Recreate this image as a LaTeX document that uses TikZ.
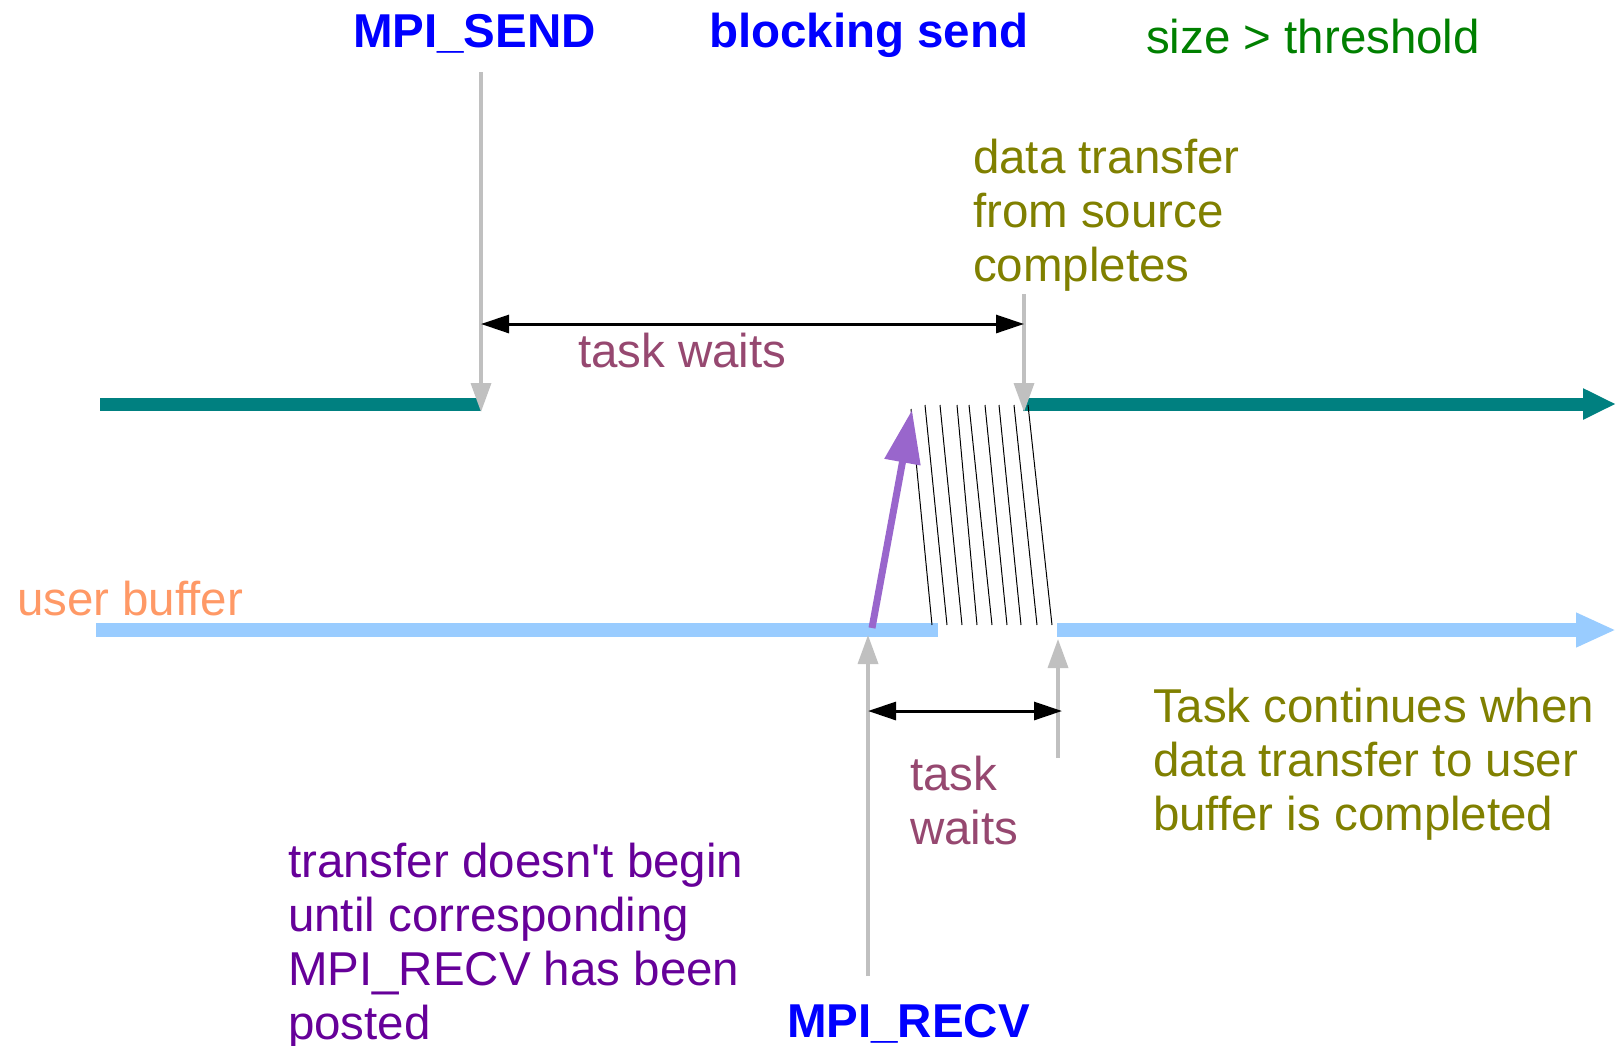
\documentclass[tikz,border=0pt]{standalone}
\usepackage{fontspec}
\setmainfont{Liberation Sans}[Ligatures=TeXOff]
\usetikzlibrary{arrows.meta}

\definecolor{cblue}{HTML}{0000FF}
\definecolor{cgreen}{HTML}{008000}
\definecolor{colive}{HTML}{808000}
\definecolor{cwait}{RGB}{150,72,112}
\definecolor{corange}{HTML}{FF9966}
\definecolor{cpurple}{HTML}{660099}
\definecolor{cteal}{HTML}{008080}
\definecolor{clight}{HTML}{99CCFF}
\definecolor{cgrey}{HTML}{C0C0C0}
\definecolor{carrow}{HTML}{9966CC}

\newcommand{\stack}[1]{\vtop{\baselineskip=54pt\lineskiplimit=-100pt #1}}

\begin{document}
\begin{tikzpicture}[x=1pt,y=-1pt,
  txt/.style={inner sep=0pt, outer sep=0pt, anchor=base west,
              font=\fontsize{47.5}{54}\selectfont},
  bold/.style={txt, font=\fontsize{47.5}{54}\selectfont\bfseries},
  sendline/.style={draw=cteal, line width=13pt},
  recvline/.style={draw=clight, line width=14pt},
  marker/.style={draw=cgrey, line width=3.5pt, -{Triangle[length=29pt,width=20pt]}},
  span/.style={draw=black, line width=3pt,
               {Triangle[length=28pt,width=18pt]}-{Triangle[length=28pt,width=18pt]}},
  hatch/.style={draw=black, line width=1pt},
  start/.style={draw=carrow, line width=7pt, -{Triangle[length=53pt,width=35pt]}}
]
\useasboundingbox (0,0) rectangle (1616,1045);

% headings
\node[bold, text=cblue] (send) at (353,47) {MPI\_SEND};
\node[bold, text=cblue] (title) at (709,47) {blocking send};
\node[txt, text=cgreen] (cond) at (1146,53) {size > threshold};

% sender time line
\coordinate (s0) at (100,404);
\coordinate (s1) at (481,404);
\coordinate (s2) at (1023,404);
\coordinate (s3) at (1616,404);
\draw[sendline] (s0) -- (s1);
\draw[sendline, -{Triangle[length=33pt,width=29pt]}] (s2) -- (s3);

% receiver time line
\node[txt, text=corange] (ubuf) at (17,615) {user buffer};
\coordinate (r0) at (96,630);
\coordinate (r1) at (938,630);
\coordinate (r2) at (1057,630);
\coordinate (r3) at (1616,630);
\draw[recvline] (r0) -- (r1);
\draw[recvline, -{Triangle[length=40pt,width=32pt]}] (r2) -- (r3);

% event markers
\coordinate (m1a) at (481,72);   \coordinate (m1b) at (481,412);
\coordinate (m2a) at (1024,294); \coordinate (m2b) at (1024,412);
\coordinate (m3a) at (868,976);  \coordinate (m3b) at (868,635);
\coordinate (m4a) at (1058,758); \coordinate (m4b) at (1058,639);
\draw[marker] (m1a) -- (m1b);
\draw[marker] (m2a) -- (m2b);
\draw[marker] (m3a) -- (m3b);
\draw[marker] (m4a) -- (m4b);

% waiting intervals
\coordinate (w1a) at (481,324);  \coordinate (w1b) at (1024,324);
\coordinate (w2a) at (868,711);  \coordinate (w2b) at (1062,711);
\draw[span] (w1a) -- (w1b);
\draw[span] (w2a) -- (w2b);
\node[txt, text=cwait] (wait1) at (578,367) {task waits};
\node[txt, text=cwait] (wait2) at (910,790) {\stack{\hbox{task}\hbox{waits}}};

% data transfer band
\foreach \xt/\yt/\xb [count=\i] in {911/409/932, 925/405/947, 940/405/962, 957/405/977,
    969/405/992, 985/405/1007, 999/405/1021, 1014/405/1037, 1028/405/1052}
  \draw[hatch] (\xt,\yt) -- (\xb,625);

% transfer start
\coordinate (p0) at (872,628);
\coordinate (p1) at (912,410);
\draw[start] (p0) -- (p1);

% annotations
\node[txt, text=colive] (srcdone) at (973,173)
  {\stack{\hbox{data transfer}\hbox{from source}\hbox{completes}}};
\node[txt, text=colive] (cont) at (1153,722)
  {\stack{\hbox{Task continues when}\hbox{data transfer to user}\hbox{buffer is completed}}};
\node[txt, text=cpurple] (post) at (288,877)
  {\stack{\hbox{transfer doesn't begin}\hbox{until corresponding}\hbox{MPI\_RECV has been}\hbox{posted}}};
\node[bold, text=cblue] (recv) at (787,1037) {MPI\_RECV};
\end{tikzpicture}
\end{document}
